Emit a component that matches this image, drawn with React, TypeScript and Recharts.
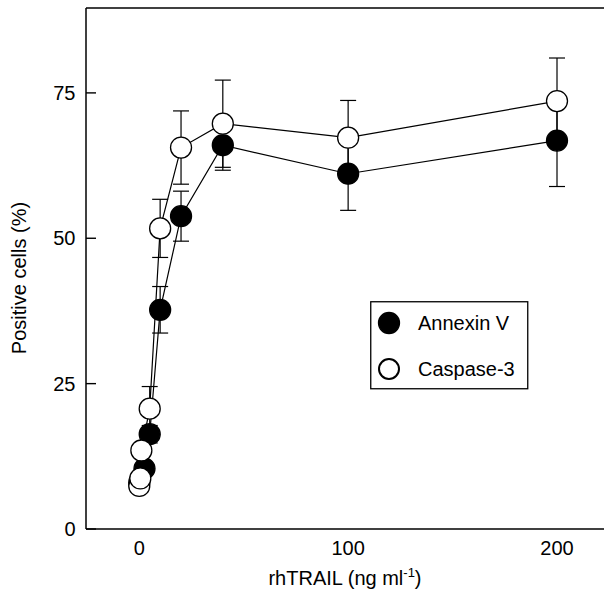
import React from 'react';
import { ScatterChart, Scatter, XAxis, YAxis, ErrorBar, ReferenceLine, Legend } from 'recharts';

// rhTRAIL dose (ng/ml) and % positive cells
const annexinDose = [0, 2.5, 5, 10, 20, 40, 100, 200];
const annexinPct = [8, 10.4, 16.3, 37.7, 53.8, 66.0, 61.1, 66.8];
const annexinErr = [0.8, 1, 1.5, 4, 4.3, 4.3, 6.3, 7.9];

const caspaseDose = [0, 0.5, 1, 5, 10, 20, 40, 100, 200];
const caspasePct = [7.4, 8.7, 13.5, 20.7, 51.7, 65.6, 69.7, 67.3, 73.6];
const caspaseErr = [0.8, 0.8, 1, 3.8, 5, 6.3, 7.5, 6.4, 7.4];

const seriesNames = ['Annexin V', 'Caspase-3'];
const xTicks = [0, 100, 200];
const yTicks = [0, 25, 50, 75];

const FONT = '"Liberation Sans", Arial, Helvetica, sans-serif';

const annexinData = annexinDose.map((d, i) => ({ x: d, y: annexinPct[i], err: annexinErr[i] }));
const caspaseData = caspaseDose.map((d, i) => ({ x: d, y: caspasePct[i], err: caspaseErr[i] }));

const dot = (fill: string) => (p: any) => (
  <circle cx={p.cx} cy={p.cy} r={10.5} fill={fill} stroke="#000" strokeWidth={1.3} />
);
const noDot = () => <g />;

const YTick = (props: any) => {
  const { x, y, payload } = props;
  return (
    <g>
      <line x1={x} x2={x + 10} y1={y} y2={y} stroke="#000" strokeWidth={1.4} />
      <text x={x - 10.5} y={y} dy="0.36em" textAnchor="end" fontSize={20} fontFamily={FONT} fill="#000">
        {payload.value}
      </text>
    </g>
  );
};

const XTick = (props: any) => {
  const { x, y, payload } = props;
  return (
    <text x={x} y={y + 19} dy="0.36em" textAnchor="middle" fontSize={20} fontFamily={FONT} fill="#000">
      {payload.value}
    </text>
  );
};

const XLabel = (props: any) => {
  const { viewBox } = props;
  const cx = viewBox.x + viewBox.width / 2;
  return (
    <text x={cx} y={585} textAnchor="middle" fontSize={20} fontFamily={FONT} fill="#000">
      rhTRAIL (ng ml
      <tspan dy={-8} fontSize={13}>-1</tspan>
      <tspan dy={8}>)</tspan>
    </text>
  );
};

const YLabel = () => (
  <text
    x={0}
    y={0}
    transform="translate(26, 278) rotate(-90)"
    textAnchor="middle"
    fontSize={20}
    fontFamily={FONT}
    fill="#000"
  >
    Positive cells (%)
  </text>
);

const LegendBox = () => (
  <svg width={160} height={90} style={{ display: 'block' }}>
    <rect x={0.75} y={0.75} width={157} height={87} fill="#fff" stroke="#000" strokeWidth={1.3} />
    <circle cx={19} cy={22} r={10.5} fill="#000" stroke="#000" strokeWidth={1.3} />
    <text x={48} y={22} dy="0.36em" fontSize={20} fontFamily={FONT} fill="#000">{seriesNames[0]}</text>
    <circle cx={19} cy={68} r={10} fill="#fff" stroke="#000" strokeWidth={2} />
    <text x={48} y={68} dy="0.36em" fontSize={20} fontFamily={FONT} fill="#000">{seriesNames[1]}</text>
  </svg>
);

export default function App() {
  return (
    <div style={{ position: 'absolute', left: 0, top: 0, background: '#fff' }}>
      <ScatterChart width={604} height={598} margin={{ top: 8, right: 0, bottom: 19, left: 0 }}>
        <XAxis
          type="number"
          dataKey="x"
          domain={[-25.5, 222.5]}
          ticks={xTicks}
          tick={<XTick />}
          tickLine={false}
          tickSize={0}
          tickMargin={0}
          height={50}
          axisLine={{ stroke: '#000', strokeWidth: 1.5 }}
          allowDataOverflow
          label={<XLabel />}
        />
        <YAxis
          type="number"
          dataKey="y"
          domain={[0, 89.6]}
          ticks={yTicks}
          tick={<YTick />}
          tickLine={false}
          tickSize={0}
          tickMargin={0}
          width={86}
          axisLine={{ stroke: '#000', strokeWidth: 1.5 }}
          allowDataOverflow
          label={<YLabel />}
        />
        <ReferenceLine y={89.6} stroke="#000" strokeWidth={1.5} />
        <Legend
          layout="vertical"
          align="center"
          verticalAlign="middle"
          content={<LegendBox />}
          wrapperStyle={{ left: 370, top: 301, width: 160 }}
        />
        {/* lines + error bars first, symbols drawn on top afterwards */}
        <Scatter
          name={seriesNames[0]}
          data={annexinData}
          line={{ stroke: '#000', strokeWidth: 1.2 }}
          lineJointType="linear"
          shape={noDot}
          isAnimationActive={false}
        >
          <ErrorBar dataKey="err" direction="y" width={8} stroke="#000" strokeWidth={1.2} />
        </Scatter>
        <Scatter
          name={seriesNames[1]}
          data={caspaseData}
          line={{ stroke: '#000', strokeWidth: 1.2 }}
          lineJointType="linear"
          shape={noDot}
          isAnimationActive={false}
        >
          <ErrorBar dataKey="err" direction="y" width={8} stroke="#000" strokeWidth={1.2} />
        </Scatter>
        <Scatter name={seriesNames[0] + ' pts'} data={annexinData} shape={dot('#000')} isAnimationActive={false} />
        <Scatter name={seriesNames[1] + ' pts'} data={caspaseData} shape={dot('#fff')} isAnimationActive={false} />
      </ScatterChart>
    </div>
  );
}
